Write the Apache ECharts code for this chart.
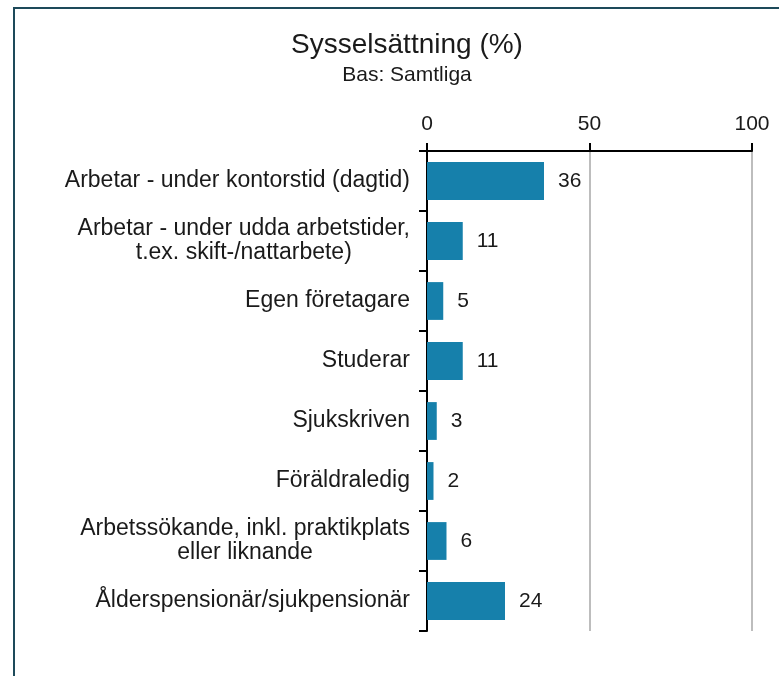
<!DOCTYPE html>
<html>
<head>
<meta charset="utf-8">
<script src="https://cdn.jsdelivr.net/npm/echarts@6/dist/echarts.min.js"></script>
<style>
  html, body { margin: 0; padding: 0; background: #fff; }
  #chart { width: 779px; height: 676px; }
</style>
</head>
<body>
<div id="chart"></div>
<script>
// Employment categories, top to bottom
const categories = [
  'Arbetar - under kontorstid (dagtid)',
  'Arbetar - under udda arbetstider,\nt.ex. skift-/nattarbete)',
  'Egen företagare',
  'Studerar',
  'Sjukskriven',
  'Föräldraledig',
  'Arbetssökande, inkl. praktikplats\neller liknande',
  'Ålderspensionär/sjukpensionär'
];
// Share of respondents, percent
const values = [36, 11, 5, 11, 3, 2, 6, 24];
// Value axis ticks
const axisTicks = [0, 50, 100];

const chart = echarts.init(document.getElementById('chart'), null, { renderer: 'canvas' });
const FONT = '"Liberation Sans", Arial, sans-serif';

chart.setOption({
  animation: false,
  backgroundColor: '#ffffff',
  graphic: [{
    type: 'rect',
    shape: { x: 14, y: 8, width: 820, height: 720 },
    style: { fill: 'none', stroke: '#1d4a5a', lineWidth: 2 },
    silent: true,
    z: 100
  }],
  title: [{
    text: 'Sysselsättning (%)',
    left: 402, top: 26, textAlign: 'center',
    textStyle: { fontFamily: FONT, fontSize: 28, fontWeight: 'normal', color: '#1a1a1a' }
  }, {
    text: 'Bas: Samtliga',
    left: 402, top: 60, textAlign: 'center',
    textStyle: { fontFamily: FONT, fontSize: 21, fontWeight: 'normal', color: '#1a1a1a' }
  }],
  grid: { left: 427, right: 27, top: 151, bottom: 45, containLabel: false },
  xAxis: {
    type: 'value',
    position: 'top',
    min: axisTicks[0],
    max: axisTicks[axisTicks.length - 1],
    interval: axisTicks[1] - axisTicks[0],
    axisLine: { show: true, lineStyle: { color: '#000', width: 2 } },
    axisTick: { show: true, length: 8, lineStyle: { color: '#000', width: 2 } },
    axisLabel: { fontFamily: FONT, fontSize: 21, color: '#1a1a1a', margin: 16 },
    splitLine: { show: true, lineStyle: { color: '#bdbdbd', width: 2 } }
  },
  yAxis: {
    type: 'category',
    inverse: true,
    data: categories,
    axisLine: { show: true, lineStyle: { color: '#000', width: 2 } },
    axisTick: { show: true, length: 8, lineStyle: { color: '#000', width: 2 } },
    axisLabel: {
      margin: 17,
      align: 'right',
      // each wrapped line is centred within the right-aligned label block
      formatter: v => v.split('\n').map(l => '{c|' + l + '}').join('\n'),
      rich: {
        c: { fontFamily: FONT, fontSize: 23, color: '#1a1a1a', align: 'center', lineHeight: 24 }
      }
    }
  },
  series: [{
    type: 'bar',
    data: values,
    barCategoryGap: '37%',
    itemStyle: { color: '#1680ab' },
    label: {
      show: true, position: 'right', distance: 14,
      fontFamily: FONT, fontSize: 21, color: '#1a1a1a'
    }
  }]
});
</script>
</body>
</html>
